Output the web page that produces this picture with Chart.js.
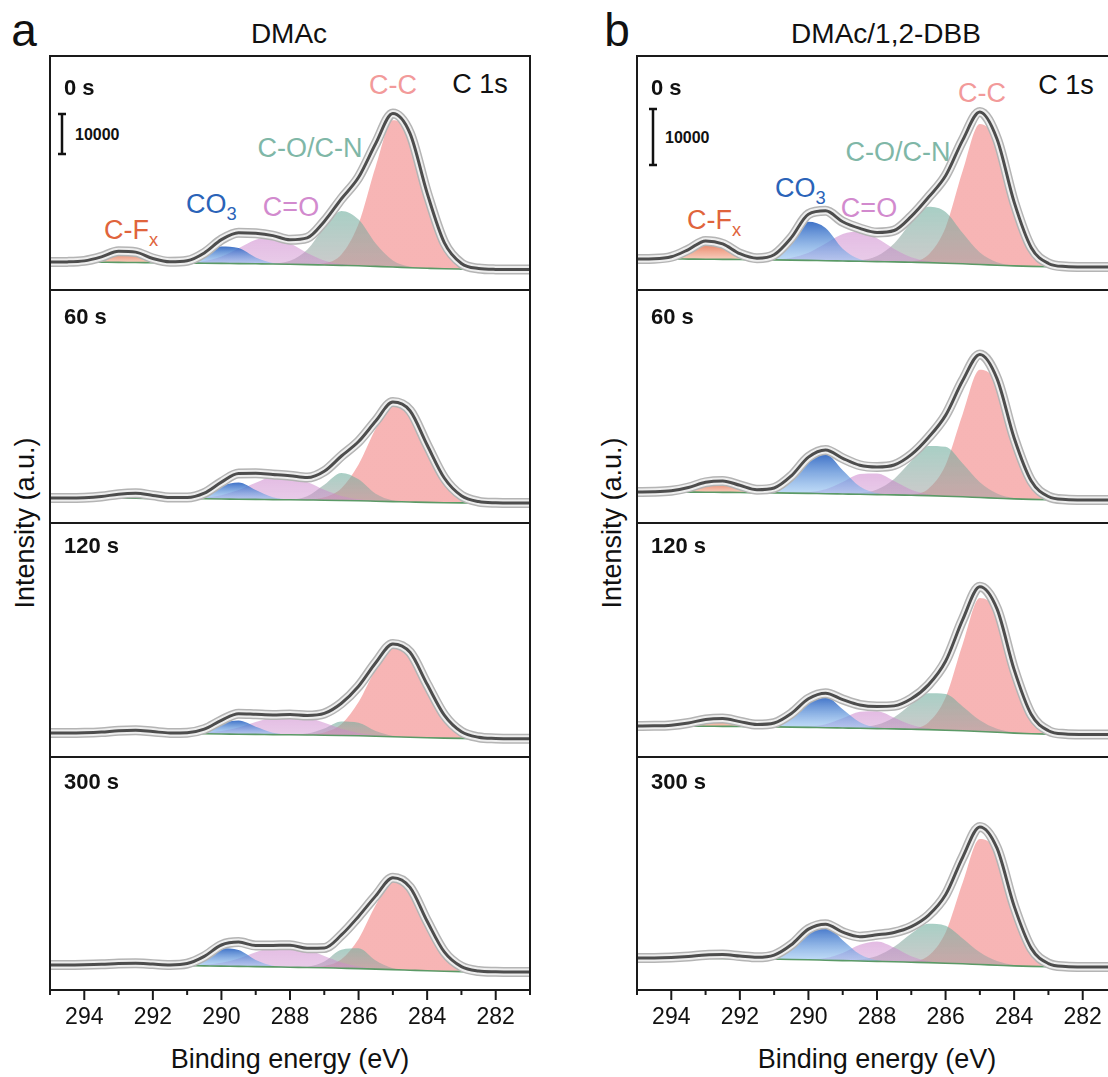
<!DOCTYPE html>
<html>
<head>
<meta charset="utf-8">
<script src="https://cdn.jsdelivr.net/npm/chart.js@4.4.0/dist/chart.umd.min.js"></script>
<style>
html, body { margin: 0; padding: 0; width: 1108px; height: 1077px; overflow: hidden; background: #fff;
  font-family: Arial, "Liberation Sans", sans-serif; color: #111; }
canvas { position: absolute; }
.t { position: absolute; line-height: 1; white-space: nowrap; transform: translate(-50%, -50%); }
.l { position: absolute; line-height: 1; white-space: nowrap; transform: translate(0, -50%); }
.s { font-size: 0.68em; position: relative; top: 0.38em; }
.tm { font-weight: bold; font-size: 22px; }
.pk { font-size: 27px; }
.bar { font-weight: bold; font-size: 16px; }
</style>
</head>
<body>

<div class="t" style="left:24px;top:30px;font-size:46px">a</div>
<div class="t" style="left:617px;top:30px;font-size:46px">b</div>
<div class="t" style="left:289px;top:34px;font-size:28px">DMAc</div>
<div class="t" style="left:886px;top:34px;font-size:28px">DMAc/1,2-DBB</div>

<!-- panel a, 0 s labels -->
<div class="t pk" style="left:393px;top:85px;color:#f29a9a">C-C</div>
<div class="t pk" style="left:480px;top:84px">C 1s</div>
<div class="t pk" style="left:310px;top:148px;color:#7fb7a7">C-O/C-N</div>
<div class="t pk" style="left:291px;top:207px;color:#d28ace">C=O</div>
<div class="l pk" style="left:186px;top:204px;color:#2a63b8">CO<span class="s">3</span></div>
<div class="l pk" style="left:104px;top:230px;color:#e0643c">C-F<span class="s">x</span></div>

<!-- panel b, 0 s labels -->
<div class="t pk" style="left:982px;top:93px;color:#f29a9a">C-C</div>
<div class="t pk" style="left:1066px;top:85px">C 1s</div>
<div class="t pk" style="left:898px;top:152px;color:#7fb7a7">C-O/C-N</div>
<div class="t pk" style="left:869px;top:208px;color:#d28ace">C=O</div>
<div class="l pk" style="left:775px;top:188px;color:#2a63b8">CO<span class="s">3</span></div>
<div class="l pk" style="left:687px;top:220px;color:#e0643c">C-F<span class="s">x</span></div>

<div class="l bar" style="left:75px;top:135px">10000</div>
<div class="l bar" style="left:665px;top:138px">10000</div>

<div class="t" style="left:25px;top:523px;font-size:27px;transform:translate(-50%,-50%) rotate(-90deg)">Intensity (a.u.)</div>
<div class="t" style="left:612px;top:523px;font-size:27px;transform:translate(-50%,-50%) rotate(-90deg)">Intensity (a.u.)</div>
<div class="t" style="left:290px;top:1059px;font-size:27px">Binding energy (eV)</div>
<div class="t" style="left:877px;top:1059px;font-size:27px">Binding energy (eV)</div>

<script>
// binding energy grid (eV), shared by every spectrum
const energy = [295,294.5,294,293.5,293,292.5,292,291.5,291,290.5,290,289.5,289,288.5,288,287.5,287,286.5,286,285.5,285,284.5,284,283.5,283,282.5,282,281.5,281];
const xTicks = [294, 292, 290, 288, 286, 284, 282];
const timeLabels = ['0 s', '60 s', '120 s', '300 s'];
const scaleBarValue = 10; // intensities are in 10^3 counts, so 10 = 10000

// ---- DMAc (panel a), intensities in 10^3 counts ----
const a0_bg  = [7.0,7.0,7.0,6.95,6.9,6.88,6.83,6.8,6.75,6.7, 6.65,6.6,6.55,6.5,6.43,6.35,6.25,6.15,6.05,5.9, 5.75,5.58,5.43,5.3,5.23,5.18,5.15,5.13,5.13];
const a0_cfx = [0,0.03,0.28,1.34,2.81,2.59,1.05,0.19,0.01,0, 0,0,0,0,0,0,0,0,0,0, 0,0,0,0,0,0,0,0,0];
const a0_co3 = [0,0,0,0,0,0,0,0.04,0.42,2.01, 4.21,3.88,1.58,0.28,0.02,0,0,0,0,0, 0,0,0,0,0,0,0,0,0];
const a0_cdo = [0,0,0,0,0,0,0,0.02,0.12,0.55, 1.73,3.85,6.04,6.70,5.26,2.92,1.15,0.32,0.06,0, 0,0,0,0,0,0,0,0,0];
const a0_con = [0,0,0,0,0,0,0,0,0,0, 0,0,0,0.12,0.86,3.71,9.31,13.6,11.56,5.72, 1.65,0.27,0.03,0,0,0,0,0,0];
const a0_cc  = [0,0,0,0,0,0,0,0,0,0, 0,0,0,0,0,0.05,0.44,2.74,10.5,25.0, 36.7,33.3,18.75,6.53,1.39,0.19,0,0,0];

const a1_bg  = [6.25,6.25,6.25,6.23,6.2,6.18,6.15,6.13,6.1,6.05, 6.0,5.95,5.9,5.85,5.8,5.75,5.7,5.63,5.55,5.45, 5.35,5.25,5.15,5.08,5.03,5.0,5.0,5.0,5.0];
const a1_cfx = [0,0,0.08,0.40,1.0,1.23,0.75,0.23,0.03,0, 0,0,0,0,0,0,0,0,0,0, 0,0,0,0,0,0,0,0,0];
const a1_co3 = [0,0,0,0,0,0,0,0.01,0.17,1.12, 3.27,4.18,2.35,0.58,0.06,0,0,0,0,0, 0,0,0,0,0,0,0,0,0];
const a1_cdo = [0,0,0,0,0,0,0,0,0.07,0.29, 0.94,2.27,4.16,5.70,5.86,4.53,2.63,1.15,0.38,0.09, 0,0,0,0,0,0,0,0,0];
const a1_con = [0,0,0,0,0,0,0,0,0,0, 0,0,0,0,0.1,0.96,3.88,6.89,5.38,1.85, 0.28,0.02,0,0,0,0,0,0,0];
const a1_cc  = [0,0,0,0,0,0,0,0,0,0, 0,0,0,0,0,0.11,0.72,3.08,9.05,18.1, 24.6,22.8,14.35,6.17,1.80,0.36,0.05,0,0];

const a2_bg  = [6.0,6.0,6.0,5.98,5.95,5.93,5.9,5.88,5.85,5.8, 5.75,5.7,5.65,5.6,5.55,5.5,5.45,5.38,5.3,5.2, 5.08,4.95,4.83,4.73,4.65,4.6,4.58,4.55,4.55];
const a2_cfx = [0,0,0.05,0.24,0.60,0.74,0.45,0.14,0.02,0, 0,0,0,0,0,0,0,0,0,0, 0,0,0,0,0,0,0,0,0];
const a2_co3 = [0,0,0,0,0,0,0,0.01,0.14,0.92, 2.69,3.44,1.94,0.48,0.05,0,0,0,0,0, 0,0,0,0,0,0,0,0,0];
const a2_cdo = [0,0,0,0,0,0,0,0,0.07,0.25, 0.73,1.70,3.09,4.43,5.0,4.43,3.09,1.70,0.73,0.25, 0.07,0,0,0,0,0,0,0,0];
const a2_con = [0,0,0,0,0,0,0,0,0,0, 0,0,0,0,0.03,0.35,1.68,3.51,3.24,1.31, 0.23,0.02,0,0,0,0,0,0,0];
const a2_cc  = [0,0,0,0,0,0,0,0,0,0, 0,0,0,0,0,0.10,0.67,2.86,8.42,16.8, 22.9,21.2,13.35,5.74,1.67,0.33,0.05,0,0];

const a3_bg  = [6.25,6.25,6.25,6.23,6.2,6.18,6.15,6.13,6.08,6.03, 5.98,5.9,5.85,5.78,5.7,5.63,5.55,5.45,5.35,5.23, 5.1,4.95,4.8,4.68,4.6,4.55,4.53,4.5,4.5];
const a3_cfx = [0,0,0.05,0.18,0.41,0.49,0.32,0.11,0.02,0, 0,0,0,0,0,0,0,0,0,0, 0,0,0,0,0,0,0,0,0];
const a3_co3 = [0,0,0,0,0,0,0,0.04,0.44,2.12, 4.44,4.10,1.67,0.30,0.02,0,0,0,0,0, 0,0,0,0,0,0,0,0,0];
const a3_cdo = [0,0,0,0,0,0,0,0,0.07,0.27, 0.83,1.97,3.60,5.06,5.47,4.55,2.92,1.44,0.55,0.16, 0.04,0,0,0,0,0,0,0,0];
const a3_con = [0,0,0,0,0,0,0,0,0,0, 0,0,0,0,0,0.21,1.60,4.63,5.09,2.14, 0.34,0.02,0,0,0,0,0,0,0];
const a3_cc  = [0,0,0,0,0,0,0,0,0,0, 0,0,0,0,0,0.06,0.44,2.24,7.41,16.0, 22.6,20.7,12.4,4.83,1.23,0.20,0.02,0,0];

// ---- DMAc/1,2-DBB (panel b) ----
const b0_bg  = [5.54,5.54,5.54,5.52,5.50,5.47,5.45,5.41,5.38,5.34, 5.29,5.23,5.18,5.13,5.07,5.02,4.95,4.88,4.79,4.68, 4.55,4.43,4.30,4.21,4.16,4.13,4.11,4.11,4.11];
const b0_cfx = [0,0.04,0.39,1.70,3.27,2.77,1.04,0.17,0.01,0, 0,0,0,0,0,0,0,0,0,0, 0,0,0,0,0,0,0,0,0];
const b0_co3 = [0,0,0,0,0,0,0,0.08,0.81,3.57, 6.88,5.84,2.18,0.36,0.03,0,0,0,0,0, 0,0,0,0,0,0,0,0,0];
const b0_cdo = [0,0,0,0,0,0,0,0.02,0.10,0.44, 1.37,3.06,4.80,5.32,4.18,2.32,0.91,0.25,0.05,0, 0,0,0,0,0,0,0,0,0];
const b0_con = [0,0,0,0,0,0,0,0,0,0, 0,0,0.03,0.19,0.99,3.28,7.09,9.99,9.16,5.49, 2.14,0.54,0.09,0,0,0,0,0,0];
const b0_cc  = [0,0,0,0,0,0,0,0,0,0, 0,0,0,0,0,0,0.19,1.43,6.39,16.6, 25.1,22.0,11.3,3.35,0.58,0.06,0,0,0];

const b1_bg  = [5.54,5.54,5.54,5.52,5.50,5.47,5.45,5.41,5.38,5.34, 5.29,5.23,5.18,5.13,5.07,5.02,4.95,4.88,4.79,4.68, 4.55,4.43,4.30,4.21,4.16,4.13,4.11,4.11,4.11];
const b1_cfx = [0,0.03,0.21,0.82,1.77,2.05,1.28,0.43,0.08,0, 0,0,0,0,0,0,0,0,0,0, 0,0,0,0,0,0,0,0,0];
const b1_co3 = [0,0,0,0,0,0,0,0.11,0.80,3.05, 6.30,7.04,4.25,1.38,0.24,0.02,0,0,0,0, 0,0,0,0,0,0,0,0,0];
const b1_cdo = [0,0,0,0,0,0,0,0,0,0.02, 0.18,0.78,2.13,3.60,3.78,2.46,0.99,0.25,0.04,0, 0,0,0,0,0,0,0,0,0];
const b1_con = [0,0,0,0,0,0,0,0,0,0, 0,0,0,0.2,0.91,2.85,6.10,8.89,8.82,5.96, 2.74,0.86,0.18,0.03,0,0,0,0,0];
const b1_cc  = [0,0,0,0,0,0,0,0,0,0, 0,0,0,0,0,0,0.16,1.24,5.57,14.8, 22.8,20.5,10.7,3.25,0.57,0.06,0,0,0];

const b2_bg  = [5.54,5.54,5.54,5.52,5.50,5.47,5.45,5.41,5.38,5.34, 5.29,5.23,5.18,5.13,5.07,5.02,4.95,4.88,4.79,4.68, 4.55,4.41,4.27,4.16,4.09,4.04,4.02,4.0,4.0];
const b2_cfx = [0,0.02,0.14,0.56,1.20,1.39,0.87,0.29,0.05,0, 0,0,0,0,0,0,0,0,0,0, 0,0,0,0,0,0,0,0,0];
const b2_co3 = [0,0,0,0,0,0,0,0.09,0.63,2.40, 4.95,5.53,3.34,1.08,0.19,0.02,0,0,0,0, 0,0,0,0,0,0,0,0,0];
const b2_cdo = [0,0,0,0,0,0,0,0,0,0.02, 0.15,0.64,1.74,2.94,3.09,2.01,0.81,0.20,0.03,0, 0,0,0,0,0,0,0,0,0];
const b2_con = [0,0,0,0,0,0,0,0,0,0, 0,0,0,0.15,0.67,2.08,4.46,6.50,6.45,4.36, 2.0,0.63,0.13,0.02,0,0,0,0,0];
const b2_cc  = [0,0,0,0,0,0,0,0,0,0, 0,0,0,0,0,0,0.17,1.30,5.83,15.5, 23.85,21.4,11.2,3.40,0.60,0.06,0,0,0];

const b3_bg  = [5.72,5.72,5.70,5.68,5.66,5.63,5.59,5.55,5.50,5.45, 5.39,5.32,5.25,5.18,5.11,5.04,4.96,4.88,4.79,4.68, 4.55,4.43,4.30,4.21,4.16,4.13,4.11,4.11,4.11];
const b3_cfx = [0,0,0.09,0.29,0.60,0.70,0.48,0.19,0.04,0, 0,0,0,0,0,0,0,0,0,0, 0,0,0,0,0,0,0,0,0];
const b3_co3 = [0,0,0,0,0,0,0,0.09,0.69,2.62, 5.42,6.05,3.65,1.19,0.21,0.02,0,0,0,0, 0,0,0,0,0,0,0,0,0];
const b3_cdo = [0,0,0,0,0,0,0,0,0,0, 0.06,0.38,1.37,2.90,3.56,2.54,1.06,0.26,0.04,0, 0,0,0,0,0,0,0,0,0];
const b3_con = [0,0,0,0,0,0,0,0,0,0, 0,0,0.05,0.26,0.98,2.68,5.13,6.96,6.68,4.53, 2.17,0.74,0.18,0.03,0,0,0,0,0];
const b3_cc  = [0,0,0,0,0,0,0,0,0,0, 0,0,0,0,0,0,0.16,1.22,5.48,14.5, 22.4,20.15,10.5,3.19,0.56,0.06,0,0,0];

// fill colours (top of peak, baseline) for C-Fx, CO3, C=O, C-O/C-N, C-C
const peakFill = [
  ['rgba(225,85,45,0.85)',  'rgba(240,160,130,0.55)'],
  ['rgba(30,90,190,0.85)',  'rgba(140,190,240,0.55)'],
  ['rgba(200,120,200,0.5)', 'rgba(205,140,205,0.45)'],
  ['rgba(110,175,158,0.6)', 'rgba(160,160,160,0.55)'],
  ['rgba(240,120,120,0.55)','rgba(240,120,120,0.55)']
];

const subTops = [56, 290, 523, 757];
const subBottom = 990;
const frameW = 480;
const pad = 10;

const panels = [
  { left: 50, pxPerK: 4.0, barDx: 12, barDy: 98, subs: [
    [a0_bg, a0_cfx, a0_co3, a0_cdo, a0_con, a0_cc],
    [a1_bg, a1_cfx, a1_co3, a1_cdo, a1_con, a1_cc],
    [a2_bg, a2_cfx, a2_co3, a2_cdo, a2_con, a2_cc],
    [a3_bg, a3_cfx, a3_co3, a3_cdo, a3_con, a3_cc]] },
  { left: 637, pxPerK: 5.6, barDx: 16, barDy: 109, subs: [
    [b0_bg, b0_cfx, b0_co3, b0_cdo, b0_con, b0_cc],
    [b1_bg, b1_cfx, b1_co3, b1_cdo, b1_con, b1_cc],
    [b2_bg, b2_cfx, b2_co3, b2_cdo, b2_con, b2_cc],
    [b3_bg, b3_cfx, b3_co3, b3_cdo, b3_con, b3_cc]] }
];

Chart.defaults.font.family = 'Arial, "Liberation Sans", sans-serif';

function pts(arr) {
  return energy.map((e, k) => ({ x: e, y: arr[k] }));
}

// vertical gradient from the top of a peak down to the background under it
function shade(j) {
  return function(ctx) {
    const chart = ctx.chart;
    if (!chart.chartArea) return peakFill[j][0];
    const d = chart.data.datasets[ctx.datasetIndex].data;
    const base = chart.data.datasets[0].data;
    let k = 0;
    d.forEach((p, n) => { if (p.y - base[n].y > d[k].y - base[k].y) k = n; });
    const ys = chart.scales.y;
    const y0 = ys.getPixelForValue(d[k].y);
    const y1 = ys.getPixelForValue(base[k].y);
    const g = chart.ctx.createLinearGradient(0, y0, 0, Math.max(y1, y0 + 1));
    g.addColorStop(0, peakFill[j][0]);
    g.addColorStop(1, peakFill[j][1]);
    return g;
  };
}

const framePlugin = {
  id: 'frame',
  afterDatasetsDraw(chart) {
    const a = chart.chartArea, c = chart.ctx;
    c.save();
    c.strokeStyle = '#1a1a1a';
    c.lineWidth = 2;
    c.strokeRect(a.left, a.top, a.right - a.left, a.bottom - a.top);
    c.restore();
  }
};

const tickPlugin = {
  id: 'minorTicks',
  afterDraw(chart) {
    if (!chart.options.plugins.minorTicks.on) return;
    const a = chart.chartArea, c = chart.ctx, xs = chart.scales.x;
    c.save();
    c.strokeStyle = '#1a1a1a';
    c.lineWidth = 2;
    for (let v = 281; v <= 295; v++) {
      const x = xs.getPixelForValue(v);
      const len = xTicks.includes(v) ? 10 : 5;
      c.beginPath();
      c.moveTo(x, a.bottom);
      c.lineTo(x, a.bottom + len);
      c.stroke();
    }
    c.restore();
  }
};

const barPlugin = {
  id: 'scaleBar',
  afterDatasetsDraw(chart) {
    const o = chart.options.plugins.scaleBar;
    if (!o.on) return;
    const a = chart.chartArea, c = chart.ctx, ys = chart.scales.y;
    const len = ys.getPixelForValue(0) - ys.getPixelForValue(scaleBarValue);
    const x = a.left + o.dx, yb = a.top + o.dy;
    c.save();
    c.strokeStyle = '#111';
    c.lineWidth = 2.5;
    c.beginPath();
    c.moveTo(x, yb); c.lineTo(x, yb - len);
    c.moveTo(x - 4, yb); c.lineTo(x + 4, yb);
    c.moveTo(x - 4, yb - len); c.lineTo(x + 4, yb - len);
    c.stroke();
    c.restore();
  }
};

function buildSub(panel, i) {
  const top = subTops[i];
  const bottom = i < 3 ? subTops[i + 1] : subBottom;
  const h = bottom - top;
  const last = i === 3;
  const axisH = last ? 50 : 0;

  const cv = document.createElement('canvas');
  cv.width = frameW + 2 * pad;
  cv.height = h + 2 * pad + axisH;
  cv.style.left = (panel.left - pad) + 'px';
  cv.style.top = (top - pad) + 'px';
  document.body.appendChild(cv);

  const [bg, cfx, co3, cdo, con, cc] = panel.subs[i];
  const comps = [cfx, co3, cdo, con, cc];
  const env = energy.map((e, k) => bg[k] + cfx[k] + co3[k] + cdo[k] + con[k] + cc[k]);

  const common = { pointRadius: 0, cubicInterpolationMode: 'monotone', clip: 0 };
  const datasets = [
    Object.assign({ data: pts(bg), borderColor: '#5b9a66', borderWidth: 1.6, fill: false, order: 4 }, common)
  ];
  comps.forEach((c, j) => {
    datasets.push(Object.assign({
      data: pts(bg.map((b, k) => b + c[k])),
      fill: 0, borderWidth: 0, borderColor: 'rgba(0,0,0,0)',
      backgroundColor: shade(j), order: 6 + j
    }, common));
  });
  // measured points: grey ring band around the fitted envelope
  datasets.push(Object.assign({ data: pts(env), borderColor: '#b4b4b4', borderWidth: 10, fill: false, order: 3 }, common));
  datasets.push(Object.assign({ data: pts(env), borderColor: '#eeeeee', borderWidth: 7, fill: false, order: 2 }, common));
  datasets.push(Object.assign({ data: pts(env), borderColor: '#4d4d4d', borderWidth: 3, fill: false, order: 1 }, common));

  new Chart(cv, {
    type: 'line',
    data: { datasets: datasets },
    options: {
      responsive: false,
      animation: false,
      events: [],
      layout: { padding: pad },
      plugins: {
        legend: { display: false },
        tooltip: { enabled: false },
        minorTicks: { on: last },
        scaleBar: { on: i === 0, dx: panel.barDx, dy: panel.barDy }
      },
      scales: {
        x: {
          type: 'linear', min: 281, max: 295, reverse: true,
          display: last,
          grid: { display: false, drawTicks: false },
          border: { display: false },
          ticks: {
            stepSize: 1, autoSkip: false, maxRotation: 0, padding: 14,
            color: '#111', font: { size: 23 },
            callback: v => xTicks.includes(v) ? String(v) : ''
          },
          afterFit: s => { s.height = axisH; s.paddingLeft = 0; s.paddingRight = 0; }
        },
        y: { display: false, min: 0, max: h / panel.pxPerK }
      }
    },
    plugins: [framePlugin, tickPlugin, barPlugin]
  });
}

panels.forEach(p => { for (let i = 0; i < 4; i++) buildSub(p, i); });

// time labels in each sub-plot
const timeDy = [32, 27, 23, 25];
panels.forEach(p => {
  timeLabels.forEach((t, i) => {
    const d = document.createElement('div');
    d.className = 'l tm';
    d.style.left = (p.left + 14) + 'px';
    d.style.top = (subTops[i] + timeDy[i]) + 'px';
    d.textContent = t;
    document.body.appendChild(d);
  });
});
</script>
</body>
</html>
